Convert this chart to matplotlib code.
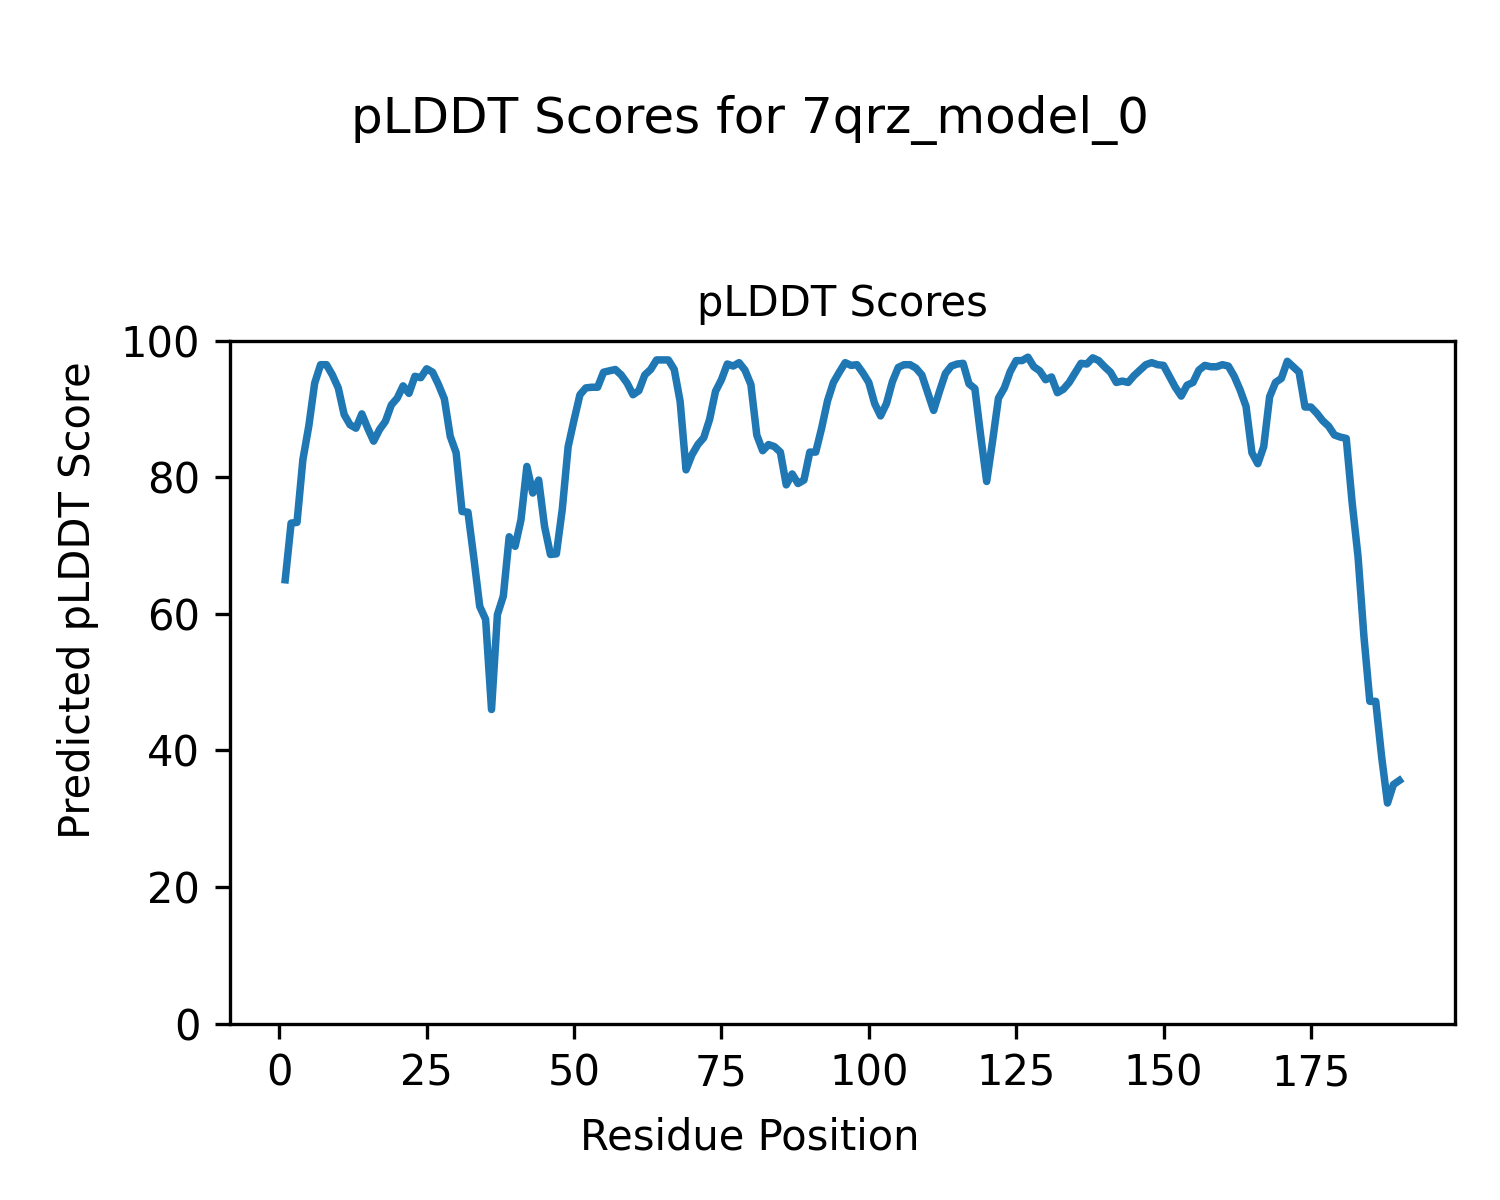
import numpy as np
import matplotlib
matplotlib.use("Agg")
import matplotlib.pyplot as plt

MODEL_NAME = "7qrz_model_0"

# pLDDT per residue (residues 1..190)
plddt = [
    65.0, 73.3, 73.4, 82.6, 87.5, 93.8, 96.5, 96.5, 95.0, 93.1,
    89.2, 87.7, 87.2, 89.3, 87.2, 85.3, 87.0, 88.2, 90.6, 91.6,
    93.4, 92.3, 94.8, 94.6, 95.9, 95.4, 93.6, 91.5, 86.0, 83.6,
    75.0, 74.9, 68.2, 61.1, 59.2, 46.0, 59.9, 62.6, 71.3, 69.9,
    73.8, 81.6, 77.7, 79.6, 72.8, 68.7, 68.8, 75.3, 84.5, 88.4,
    92.1, 93.1, 93.2, 93.2, 95.4, 95.6, 95.8, 95.0, 93.8, 92.1,
    92.7, 95.0, 95.8, 97.2, 97.2, 97.2, 95.8, 91.1, 81.1, 83.3,
    84.8, 85.8, 88.5, 92.6, 94.3, 96.6, 96.3, 96.8, 95.7, 93.6,
    86.2, 83.9, 84.8, 84.5, 83.7, 78.9, 80.5, 79.1, 79.6, 83.7,
    83.7, 87.2, 91.2, 93.9, 95.4, 96.8, 96.4, 96.5, 95.3, 93.9,
    90.8, 89.0, 90.8, 94.0, 96.1, 96.5, 96.5, 96.0, 95.0, 92.4,
    89.8, 92.6, 95.2, 96.3, 96.6, 96.7, 93.7, 93.0, 86.0, 79.4,
    85.3, 91.6, 93.1, 95.5, 97.1, 97.1, 97.6, 96.2, 95.6, 94.3,
    94.7, 92.4, 92.9, 93.9, 95.3, 96.7, 96.6, 97.5, 97.1, 96.2,
    95.4, 93.9, 94.1, 93.9, 94.9, 95.7, 96.5, 96.8, 96.5, 96.4,
    94.8, 93.2, 91.9, 93.5, 93.9, 95.7, 96.4, 96.2, 96.2, 96.5,
    96.3, 94.8, 92.8, 90.4, 83.6, 82.0, 84.5, 91.8, 93.9, 94.5,
    97.0, 96.2, 95.4, 90.3, 90.3, 89.4, 88.3, 87.5, 86.2, 85.9,
    85.7, 76.3, 68.4, 56.7, 47.2, 47.2, 39.1, 32.3, 35.0, 35.6,
]
residues = np.arange(1, len(plddt) + 1)

fig, ax = plt.subplots(figsize=(5, 4), dpi=300)
fig.subplots_adjust(left=0.153, right=0.97, bottom=0.147, top=0.716)

ax.plot(residues, plddt, color="#1f77b4", linewidth=1.8)
ax.set_ylim(0, 100)
ax.set_title("pLDDT Scores", fontsize=10)

# axis labels are centred on the figure, not on the axes
fig.supxlabel("Residue Position", fontsize=10, y=0.052, va="center")
fig.supylabel("Predicted pLDDT Score", fontsize=10, x=0.052, ha="center")
fig.suptitle(f"pLDDT Scores for {MODEL_NAME}", fontsize=12, y=0.9, va="center")

fig.savefig("out.png", dpi=300)
